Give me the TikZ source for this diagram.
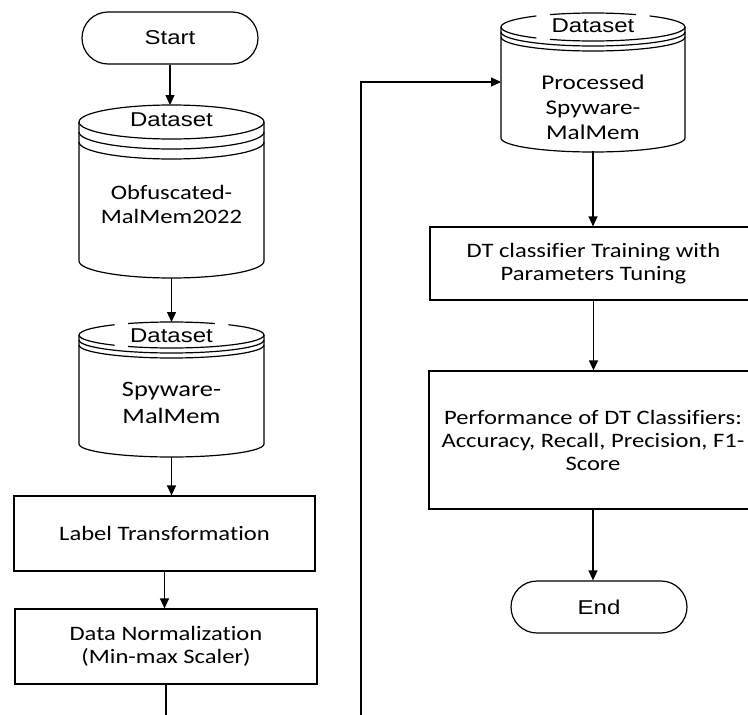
\documentclass[tikz,border=0pt]{standalone}
\usepackage{fontspec}
\setmainfont{Carlito}[FakeStretch=1.2,Ligatures=NoCommon]
\newfontfamily\arialfont{Liberation Sans}[FakeStretch=1.2]
\usetikzlibrary{arrows.meta}

\tikzset{
  line/.style={line width=1.2pt},
  arr/.style={line, -{Triangle[length=10pt,width=9pt]}},
  term/.style={line, draw, rounded corners=26pt, minimum width=176pt,
    minimum height=52pt, inner sep=0pt, font=\arialfont\fontsize{20}{24}\selectfont},
  proc/.style={line, draw, align=center, inner sep=0pt,
    font=\fontsize{20.5}{23}\selectfont},
  dbtag/.style={inner sep=0pt, font=\arialfont\fontsize{20}{24}\selectfont},
  dbtext/.style={align=center, inner sep=0pt},
  dbbody/.style={inner sep=0pt, outer sep=0pt},
}

% database symbol: #1 centre x, #2 top ellipse y, #3 bottom ellipse y,
% #4 x radius, #5 y radius, #6 ring spacing, #7 = 1 leaves gaps beside the tag
\newcommand\dbdraw[7]{%
  \draw[line] (#1-#4,#2) -- (#1-#4,#3)
    arc[start angle=180,end angle=360,x radius=#4pt,y radius=#5pt] -- (#1+#4,#2);
  \ifnum#7=1
    \foreach \a/\b in {-52/52,62/118,128/232,242/308}
      \draw[line] ([shift={(\a:#4pt and #5pt)}]#1,#2)
        arc[start angle=\a,end angle=\b,x radius=#4pt,y radius=#5pt];
  \else
    \draw[line] (#1,#2) ellipse[x radius=#4pt,y radius=#5pt];
  \fi
  \foreach \k in {1,2}
    \draw[line] ([shift={(180:#4pt and #5pt)}]#1,#2+\k*#6)
      arc[start angle=180,end angle=360,x radius=#4pt,y radius=#5pt];
}

\begin{document}
\begin{tikzpicture}[x=1pt,y=-1pt]
\useasboundingbox (0,0) rectangle (748,715);
\clip (0,0) rectangle (748,715);

% left column
\node[term] (start) at (170,38) {Start};

\node[dbbody, minimum width=185pt, minimum height=173pt] (c1) at (171.5,191.5) {};
\dbdraw{171.5}{122}{261}{92.5}{17}{10}{0}
\node[dbtag] (c1tag) at (171.5,120) {Dataset};
\node[dbtext, font=\fontsize{20.5}{24}\selectfont] (c1txt) at (171.5,204) {Obfuscated-\\MalMem2022};

\node[dbbody, minimum width=185pt, minimum height=135pt] (c2) at (171.5,389.5) {};
\dbdraw{171.5}{335}{444}{92.5}{13}{5}{1}
\node[dbtag] (c2tag) at (171.5,336) {Dataset};
\node[dbtext, font=\fontsize{22}{27}\selectfont] (c2txt) at (171.5,403) {Spyware-\\MalMem};

\node[proc, minimum width=301pt, minimum height=75pt] (lt) at (164.5,533.5) {Label Transformation};
\node[proc, minimum width=302pt, minimum height=75pt] (dn) at (166,646.5) {Data Normalization\\(Min-max Scaler)};

% right column
\node[dbbody, minimum width=184pt, minimum height=138pt] (c3) at (593,82) {};
\dbdraw{593}{27}{138}{92}{14}{5}{1}
\node[dbtag] (c3tag) at (593,26) {Dataset};
\node[dbtext, font=\fontsize{21}{25}\selectfont] (c3txt) at (593,107) {Processed\\Spyware-\\MalMem};

\node[proc, minimum width=327pt, minimum height=73pt] (dt) at (593.5,263.5)
  {DT classifier Training with\\Parameters Tuning};
\node[proc, minimum width=328pt, minimum height=138pt] (perf) at (593,440)
  {Performance of DT Classifiers:\\Accuracy, Recall, Precision, F1-\\Score};
\node[term] (end) at (599,607) {End};

% connectors
\draw[arr] (start.south) -- (start.south |- c1.north);
\draw[arr] (c1.south) -- (c1.south |- c2.north);
\draw[arr] (c2.south) -- (c2.south |- lt.north);
\draw[arr] (lt.south) -- (lt.south |- dn.north);
\coordinate (loopdown) at (166,745);
\coordinate (loopup) at (361,745);
\draw[arr] (dn.south) -- (dn.south |- loopdown) -- (loopup) |- (c3.west);
\draw[arr] (c3.south) -- (c3.south |- dt.north);
\draw[arr] (dt.south) -- (dt.south |- perf.north);
\draw[arr] (perf.south) -- (perf.south |- end.north);
\end{tikzpicture}
\end{document}
